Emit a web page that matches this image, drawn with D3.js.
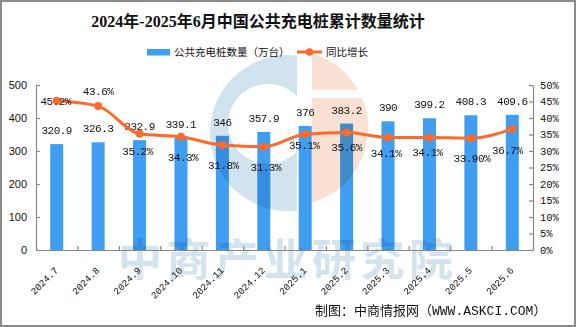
<!DOCTYPE html>
<html>
<head>
<meta charset="utf-8">
<script src="https://cdn.jsdelivr.net/npm/d3@7"></script>
<style>
  body { margin: 0; background: #fff; }
  svg { display: block; }
</style>
</head>
<body>
<div id="chart"></div>
<script>
const width = 576;
const height = 327;

// monthly data
const months = ["2024.7", "2024.8", "2024.9", "2024.10", "2024.11", "2024.12",
                "2025.1", "2025.2", "2025.3", "2025.4", "2025.5", "2025.6"];
const piles = [320.9, 326.3, 332.9, 339.1, 346, 357.9, 376, 383.2, 390, 399.2, 408.3, 409.6];
const growth = [45.2, 43.6, 35.2, 34.3, 31.8, 31.3, 35.1, 35.6, 34.1, 34.1, 33.9, 36.7];
const growthText = ["45.2%", "43.6%", "35.2%", "34.3%", "31.8%", "31.3%",
                    "35.1%", "35.6%", "34.1%", "34.1%", "33.90%", "36.7%"];
const leftTicks = [0, 100, 200, 300, 400, 500];
const rightTicks = [0, 5, 10, 15, 20, 25, 30, 35, 40, 45, 50];

// where each growth label sits relative to its dot
const labelShift = [[-1, 0], [0, -15], [-2, 17], [2, 20], [1, 20], [2, 20],
                    [-1, 11], [0, 15], [-2, 16], [-2, 15], [1, 20], [-5, 21]];

const plot = { left: 36, right: 533, top: 85, bottom: 250 };
const barColor = "#409ef0";
const lineColor = "#ff6a2b";
const monoFont = "'Liberation Mono', 'Noto Sans CJK SC', monospace";
const cjkFont = "'Noto Sans CJK SC', sans-serif";

const svg = d3.select("#chart")
    .append("svg")
    .attr("width", width)
    .attr("height", height);

svg.append("rect")
    .attr("x", 1).attr("y", 1)
    .attr("width", width - 2).attr("height", height - 2)
    .attr("fill", "#fff")
    .attr("stroke", "#8a8a8a")
    .attr("stroke-width", 2);

// title
svg.append("text")
    .attr("x", 258).attr("y", 27)
    .attr("text-anchor", "middle")
    .attr("font-family", "'Liberation Serif', 'Noto Sans CJK SC', serif")
    .attr("font-weight", "bold")
    .attr("font-size", 16)
    .attr("fill", "#111")
    .text("2024年-2025年6月中国公共充电桩累计数量统计");

// legend
const legend = svg.append("g").attr("font-family", cjkFont).attr("font-size", 10.5).attr("fill", "#111");
legend.append("rect").attr("x", 147).attr("y", 49).attr("width", 23).attr("height", 6.5).attr("fill", barColor);
legend.append("text").attr("x", 174).attr("y", 56).text("公共充电桩数量（万台）");
legend.append("line").attr("x1", 297).attr("x2", 322).attr("y1", 52).attr("y2", 52)
    .attr("stroke", lineColor).attr("stroke-width", 3);
legend.append("circle").attr("cx", 309.5).attr("cy", 52).attr("r", 3.8).attr("fill", lineColor);
legend.append("text").attr("x", 326).attr("y", 56).text("同比增长");

// scales
const x = d3.scaleBand()
    .domain(months)
    .range([plot.left, plot.right])
    .padding(0);

const y = d3.scaleLinear()
    .domain([0, 500])
    .range([plot.bottom, plot.top]);

const y2 = d3.scaleLinear()
    .domain([0, 50])
    .range([plot.bottom, plot.top]);

const barWidth = 13;
const cx = d => x(d) + x.bandwidth() / 2;

// bars
svg.append("g")
    .selectAll("rect")
    .data(piles)
    .join("rect")
    .attr("x", (d, i) => cx(months[i]) - barWidth / 2)
    .attr("y", d => y(d))
    .attr("width", barWidth)
    .attr("height", d => y(0) - y(d))
    .attr("fill", barColor);

// watermark logo + name, blended over the bars
const mark = svg.append("g").style("mix-blend-mode", "multiply");
const defs = svg.append("defs");
defs.append("clipPath").attr("id", "clipL")
    .append("rect").attr("x", 0).attr("y", 0).attr("width", 297).attr("height", height);
const clipR = defs.append("clipPath").attr("id", "clipR");
clipR.append("rect").attr("x", 312).attr("y", 0).attr("width", 300).attr("height", 90);
clipR.append("rect").attr("x", 312).attr("y", 98).attr("width", 300).attr("height", 250);

// blue "C": outer disc with an off-centre hole
const c = d3.path();
c.moveTo(288 + 78, 133);
c.arc(288, 133, 78, 0, 2 * Math.PI);
c.moveTo(268 + 40, 124);
c.arc(268, 124, 40, 0, 2 * Math.PI);
mark.append("g").attr("clip-path", "url(#clipL)")
    .append("path")
    .attr("d", c.toString())
    .attr("fill-rule", "evenodd")
    .attr("fill", "#d0e3ef");
mark.append("g").attr("clip-path", "url(#clipR)")
    .append("circle")
    .attr("cx", 290).attr("cy", 128).attr("r", 78)
    .attr("fill", "#fbe1d4");
mark.append("text")
    .attr("x", 118).attr("y", 276)
    .attr("font-family", cjkFont)
    .attr("font-weight", "bold")
    .attr("font-size", 44)
    .attr("letter-spacing", 4.5)
    .attr("fill", "#d3e4ef")
    .text("中商产业研究院");

// axes
const axisColor = "#888";

const leftAxis = svg.append("g")
    .attr("transform", `translate(${plot.left},0)`)
    .call(d3.axisLeft(y).tickValues(leftTicks).tickSize(-4).tickSizeOuter(0).tickPadding(9));
leftAxis.selectAll("text")
    .attr("font-family", "'Liberation Sans', Arial, sans-serif")
    .attr("font-size", 11)
    .attr("fill", "#111");

const rightAxis = svg.append("g")
    .attr("transform", `translate(${plot.right},0)`)
    .call(d3.axisRight(y2).tickValues(rightTicks).tickSize(-4).tickSizeOuter(0).tickPadding(7)
        .tickFormat(d => d + "%"));
rightAxis.selectAll("text")
    .attr("font-family", monoFont)
    .attr("font-size", 10.5)
    .attr("fill", "#111");

const bounds = d3.scaleLinear().domain([0, months.length]).range([plot.left, plot.right]);
svg.append("g")
    .attr("transform", `translate(0,${plot.bottom})`)
    .call(d3.axisBottom(bounds).ticks(months.length).tickSize(-4).tickSizeOuter(0).tickFormat(""));

svg.selectAll(".domain, .tick line")
    .attr("stroke", axisColor)
    .attr("stroke-width", 1.2);

// rotated month labels
svg.append("g")
    .selectAll("text")
    .data(months)
    .join("text")
    .attr("transform", d => `translate(${cx(d) + 2},${plot.bottom + 21}) rotate(-45)`)
    .attr("text-anchor", "end")
    .attr("font-family", monoFont)
    .attr("font-size", 9.5)
    .attr("fill", "#111")
    .text(d => d);

// bar value labels
svg.append("g")
    .selectAll("text")
    .data(piles)
    .join("text")
    .attr("x", (d, i) => cx(months[i]))
    .attr("y", d => y(d) - 10)
    .attr("text-anchor", "middle")
    .attr("font-family", monoFont)
    .attr("font-size", 11)
    .attr("letter-spacing", -0.5)
    .attr("fill", "#111")
    .text(d => String(d));

// growth line
const line = d3.line()
    .x((d, i) => cx(months[i]))
    .y(d => y2(d))
    .curve(d3.curveMonotoneX);

svg.append("path")
    .datum(growth)
    .attr("d", line)
    .attr("fill", "none")
    .attr("stroke", lineColor)
    .attr("stroke-width", 3);

svg.append("g")
    .selectAll("circle")
    .data(growth)
    .join("circle")
    .attr("cx", (d, i) => cx(months[i]))
    .attr("cy", d => y2(d))
    .attr("r", 4)
    .attr("fill", lineColor);

svg.append("g")
    .selectAll("text")
    .data(growth)
    .join("text")
    .attr("x", (d, i) => cx(months[i]) + labelShift[i][0])
    .attr("y", (d, i) => y2(d) + labelShift[i][1])
    .attr("dy", "0.35em")
    .attr("text-anchor", "middle")
    .attr("font-family", monoFont)
    .attr("font-size", 11)
    .attr("letter-spacing", -0.5)
    .attr("fill", "#111")
    .text((d, i) => growthText[i]);

// source note
svg.append("text")
    .attr("x", 315).attr("y", 315)
    .attr("font-family", monoFont)
    .attr("font-size", 13)
    .attr("fill", "#111")
    .text("制图：中商情报网（WWW.ASKCI.COM）");
</script>
</body>
</html>
